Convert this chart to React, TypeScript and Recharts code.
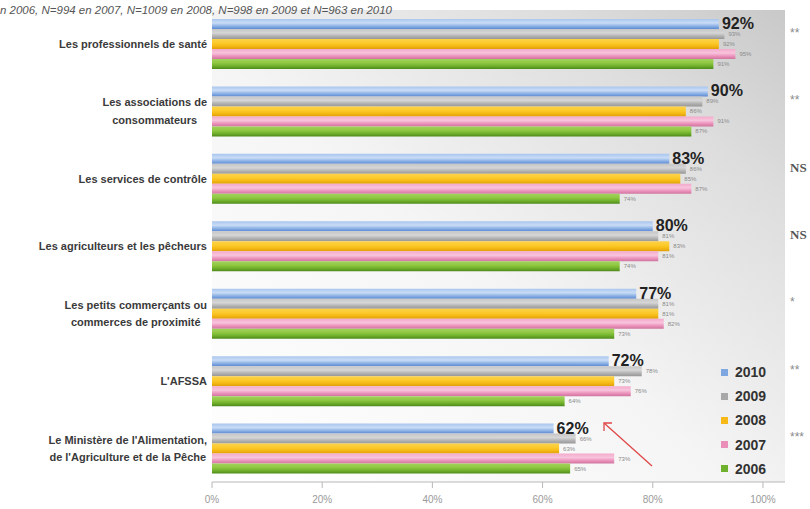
import React from "react";
import {
  BarChart,
  Bar,
  XAxis,
  YAxis,
  CartesianGrid,
  LabelList,
} from "recharts";

const categories = [
  "Les professionnels de santé",
  "Les associations de\nconsommateurs",
  "Les services de contrôle",
  "Les agriculteurs et les pêcheurs",
  "Les petits commerçants ou\ncommerces de proximité",
  "L'AFSSA",
  "Le Ministère de l'Alimentation,\nde l'Agriculture et de la Pêche",
];
const v2010 = [92, 90, 83, 80, 77, 72, 62];
const v2009 = [93, 89, 86, 81, 81, 78, 66];
const v2008 = [92, 86, 85, 83, 81, 73, 63];
const v2007 = [95, 91, 87, 81, 82, 76, 73];
const v2006 = [91, 87, 74, 74, 73, 64, 65];
const significance = ["**", "**", "NS", "NS", "*", "**", "***"];
const xTicks = [0, 20, 40, 60, 80, 100];
const years = ["2010", "2009", "2008", "2007", "2006"];
const subtitle =
  "n 2006, N=994 en 2007, N=1009 en 2008, N=998 en 2009 et N=963 en 2010";

const colors: Record<string, string[]> = {
  "2010": ["#a9c6ee", "#c9dcf6", "#8fb3e6", "#5c8ad3"],
  "2009": ["#c6c6c6", "#d6d6d6", "#b3b3b3", "#979797"],
  "2008": ["#fbd24a", "#fcca2c", "#f5b914", "#e09e0a"],
  "2007": ["#f3aacb", "#f8c4dc", "#ec94bd", "#cf749e"],
  "2006": ["#a2d25e", "#8fc741", "#70b02c", "#4d8a1a"],
};
const swatch: Record<string, string> = {
  "2010": "#7ea6e0",
  "2009": "#a8a8a8",
  "2008": "#f6b917",
  "2007": "#e98fba",
  "2006": "#6fb02c",
};

const data = categories.map((name, i) => ({
  name,
  y2010: v2010[i],
  y2009: v2009[i],
  y2008: v2008[i],
  y2007: v2007[i],
  y2006: v2006[i],
}));

const FONT = '"Liberation Sans", Arial, sans-serif';

let ctx: CanvasRenderingContext2D | null = null;
function measure(text: string, font: string): number {
  if (!ctx) {
    const c = document.createElement("canvas");
    ctx = c.getContext("2d");
  }
  if (!ctx) return text.length * 6.3;
  ctx.font = font;
  return ctx.measureText(text).width;
}

const YTick = (props: any) => {
  const { x, y, payload } = props;
  const lines: string[] = String(payload.value).split("\n");
  const font = `bold 11px ${FONT}`;
  if (lines.length === 1) {
    return (
      <text
        x={x}
        y={y}
        dy={4}
        textAnchor="end"
        fontFamily={FONT}
        fontWeight="bold"
        fontSize={11}
        fill="#3a3a3a"
      >
        {lines[0]}
      </text>
    );
  }
  const maxW = Math.max(...lines.map((l) => measure(l, font)));
  const cx = x - maxW / 2;
  const lh = 17.5;
  const start = -((lines.length - 1) * lh) / 2;
  return (
    <g>
      {lines.map((l, i) => (
        <text
          key={i}
          x={cx}
          y={y + start + i * lh}
          dy={4}
          textAnchor="middle"
          fontFamily={FONT}
          fontWeight="bold"
          fontSize={11}
          fill="#3a3a3a"
        >
          {l}
        </text>
      ))}
    </g>
  );
};

const SigTick = (props: any) => {
  const { x, y, payload } = props;
  const s = significance[payload.index] ?? "";
  const isNS = s === "NS";
  return (
    <text
      x={x}
      y={y - 11}
      dy={4}
      textAnchor="start"
      fontFamily={isNS ? '"Liberation Serif", serif' : FONT}
      fontWeight={isNS ? "bold" : "normal"}
      fontSize={isNS ? 13 : 12}
      fill={isNS ? "#555" : "#8a8a8a"}
    >
      {s}
    </text>
  );
};

const BigLabel = (props: any) => {
  const { x, y, width, height, value } = props;
  return (
    <text
      x={x + width + 3}
      y={y + height / 2}
      dy={5}
      fontFamily={FONT}
      fontWeight="bold"
      fontSize={16}
      fill="#222"
    >
      {value}%
    </text>
  );
};

const SmallLabel = (props: any) => {
  const { x, y, width, height, value } = props;
  return (
    <text
      x={x + width + 4}
      y={y + height / 2}
      dy={2}
      fontFamily={FONT}
      fontSize={6}
      fill="#8a8a8a"
    >
      {value}%
    </text>
  );
};

const LegendBox = () => (
  <div
    style={{
      position: "absolute",
      left: 721,
      top: 360,
      width: 80,
      fontFamily: FONT,
    }}
  >
    {years.map((yr) => (
      <div
        key={yr}
        style={{
          display: "flex",
          alignItems: "center",
          height: 24.2,
        }}
      >
        <div
          style={{
            width: 7,
            height: 7,
            background: swatch[yr],
            marginRight: 7,
          }}
        />
        <span style={{ fontWeight: "bold", fontSize: 14, color: "#333" }}>
          {yr}
        </span>
      </div>
    ))}
  </div>
);

export default function App() {
  return (
    <div
      style={{
        position: "absolute",
        left: 0,
        top: 0,
        width: 810,
        height: 509,
        background: "#fff",
      }}
    >
      <BarChart
        width={810}
        height={509}
        data={data}
        layout="vertical"
        margin={{ top: 10, right: 0, bottom: 0, left: 0 }}
        barSize={10}
        barGap={0}
      >
        <defs>
          <linearGradient id="bgGrad" x1="0" y1="1" x2="1" y2="0">
            <stop offset="0" stopColor="#ffffff" />
            <stop offset="0.45" stopColor="#f5f5f5" />
            <stop offset="0.8" stopColor="#dddddd" />
            <stop offset="1" stopColor="#c9c9c9" />
          </linearGradient>
          {years.map((yr) => (
            <linearGradient
              key={yr}
              id={`g${yr}`}
              x1="0"
              y1="0"
              x2="0"
              y2="1"
            >
              <stop offset="0" stopColor={colors[yr][0]} />
              <stop offset="0.4" stopColor={colors[yr][1]} />
              <stop offset="0.7" stopColor={colors[yr][2]} />
              <stop offset="1" stopColor={colors[yr][3]} />
            </linearGradient>
          ))}
        </defs>
        <CartesianGrid
          horizontal={false}
          vertical={false}
          fill="url(#bgGrad)"
          fillOpacity={1}
        />
        <XAxis
          type="number"
          domain={[0, 104]}
          ticks={xTicks}
          tickFormatter={(v: number) => `${v}%`}
          tick={{ fill: "#9a9a9a", fontSize: 10, fontFamily: FONT }}
          axisLine={{ stroke: "#b8b8b8" }}
          tickLine={{ stroke: "#b8b8b8" }}
          tickSize={6}
          tickMargin={8}
          height={27}
        />
        <YAxis
          yAxisId="left"
          type="category"
          dataKey="name"
          width={212}
          tick={<YTick />}
          tickLine={false}
          axisLine={false}
          tickSize={0}
          tickMargin={5}
          interval={0}
        />
        <YAxis
          yAxisId="right"
          orientation="right"
          type="category"
          dataKey="name"
          width={25}
          tick={<SigTick />}
          tickLine={false}
          axisLine={false}
          tickSize={0}
          tickMargin={5}
          interval={0}
        />
        <Bar
          yAxisId="left"
          dataKey="y2010"
          name="2010"
          fill="url(#g2010)"
          isAnimationActive={false}
        >
          <LabelList dataKey="y2010" content={<BigLabel />} />
        </Bar>
        <Bar
          yAxisId="left"
          dataKey="y2009"
          name="2009"
          fill="url(#g2009)"
          isAnimationActive={false}
        >
          <LabelList dataKey="y2009" content={<SmallLabel />} />
        </Bar>
        <Bar
          yAxisId="left"
          dataKey="y2008"
          name="2008"
          fill="url(#g2008)"
          isAnimationActive={false}
        >
          <LabelList dataKey="y2008" content={<SmallLabel />} />
        </Bar>
        <Bar
          yAxisId="left"
          dataKey="y2007"
          name="2007"
          fill="url(#g2007)"
          isAnimationActive={false}
        >
          <LabelList dataKey="y2007" content={<SmallLabel />} />
        </Bar>
        <Bar
          yAxisId="left"
          dataKey="y2006"
          name="2006"
          fill="url(#g2006)"
          isAnimationActive={false}
        >
          <LabelList dataKey="y2006" content={<SmallLabel />} />
        </Bar>
      </BarChart>
      <LegendBox />
      <svg
        width={810}
        height={509}
        style={{ position: "absolute", left: 0, top: 0, pointerEvents: "none" }}
      >
        <text
          x={0}
          y={14}
          fontFamily={FONT}
          fontStyle="italic"
          fontSize={11}
          fill="#555"
          textLength={392}
          lengthAdjust="spacingAndGlyphs"
        >
          {subtitle}
        </text>
        <line
          x1={652}
          y1={466}
          x2={604}
          y2={423}
          stroke="#e04848"
          strokeWidth={1.3}
        />
        <polyline
          points="604,431 604,423 612,423"
          fill="none"
          stroke="#e04848"
          strokeWidth={1.3}
        />
      </svg>
    </div>
  );
}
